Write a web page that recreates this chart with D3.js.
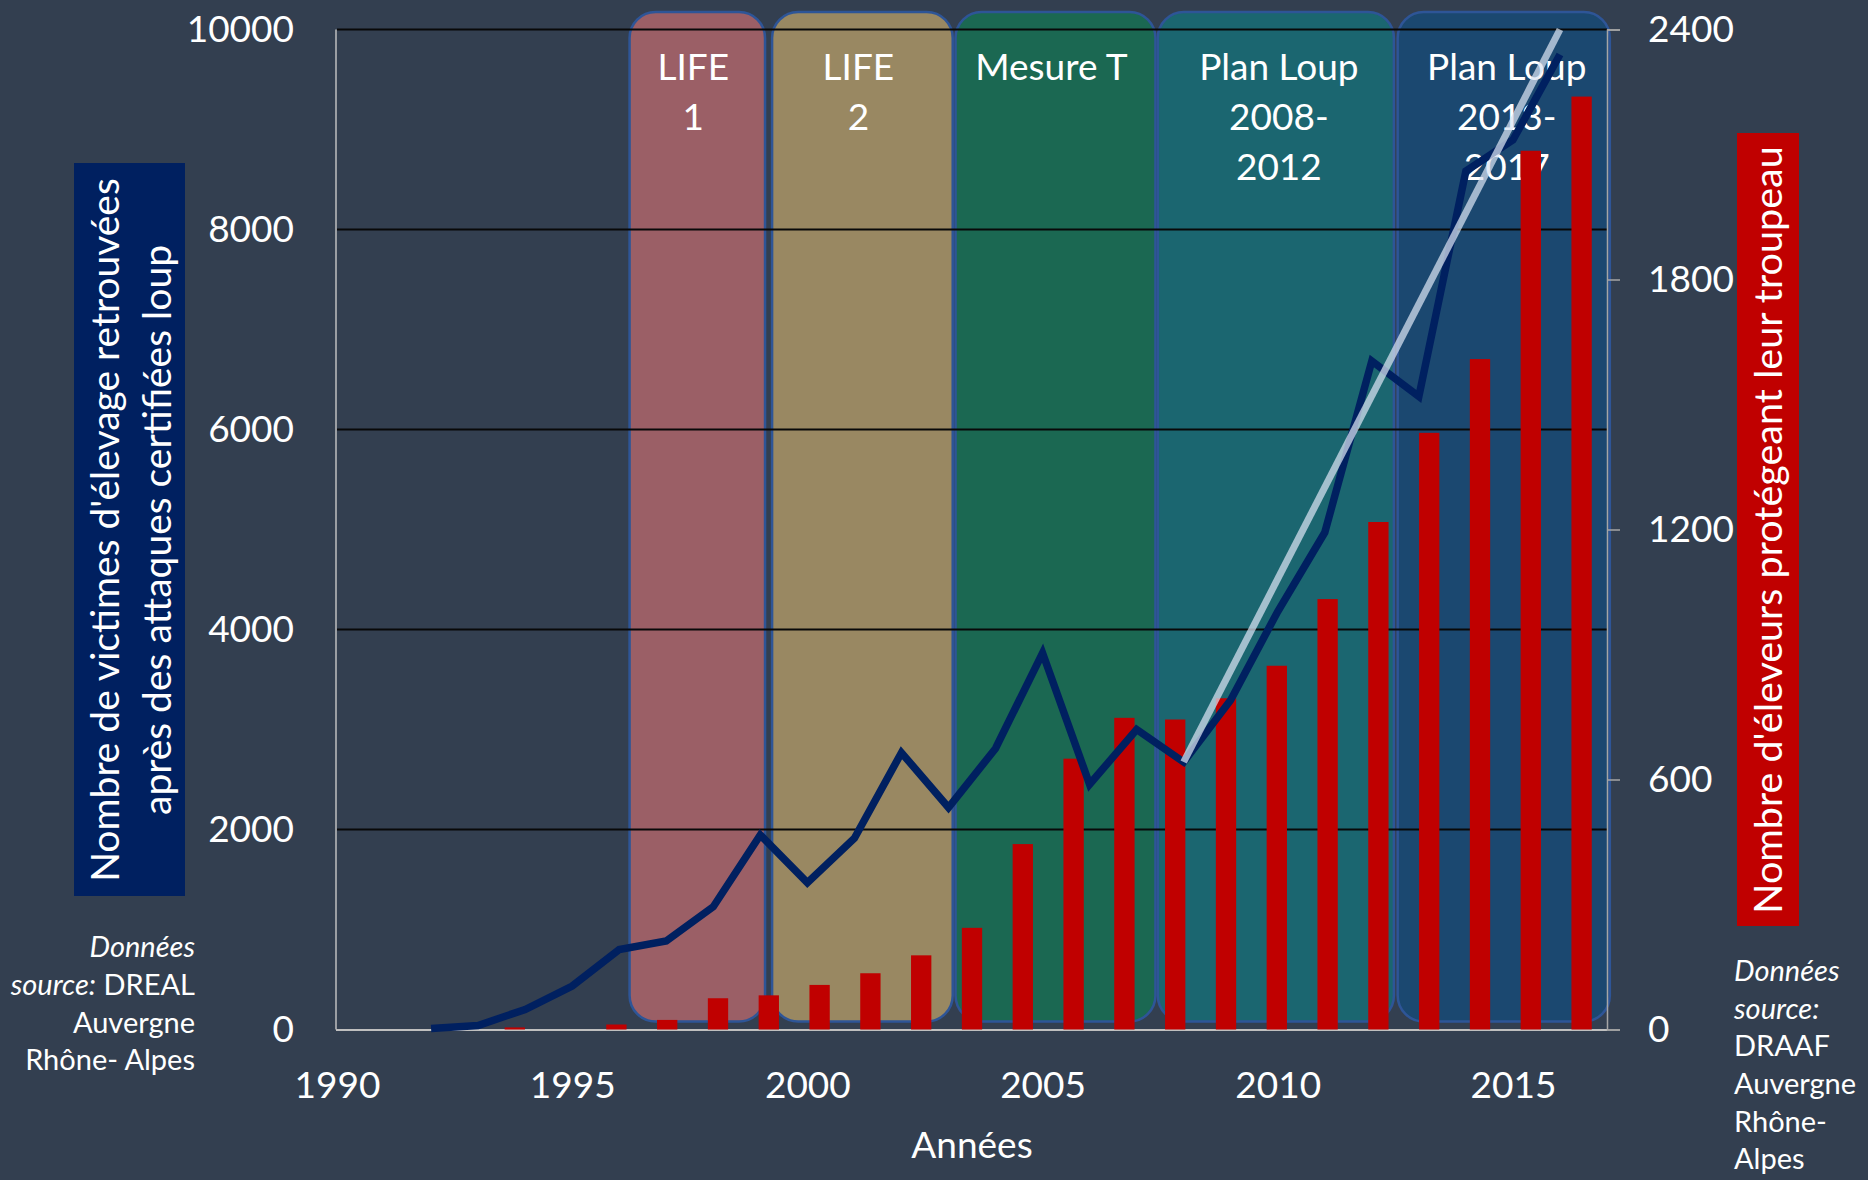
<!DOCTYPE html>
<html>
<head>
<meta charset="utf-8">
<script src="https://cdn.jsdelivr.net/npm/d3@7"></script>
<style>
  html, body { margin: 0; padding: 0; background: #333f50; }
  svg { display: block; }
</style>
</head>
<body>
<div id="chart"></div>
<script>
// Years shared by the line and the bar series.
const years = [1992, 1993, 1994, 1995, 1996, 1997, 1998, 1999, 2000, 2001, 2002, 2003, 2004,
    2005, 2006, 2007, 2008, 2009, 2010, 2011, 2012, 2013, 2014, 2015, 2016];

// Victims of wolf attacks (left axis).
const victims = [10, 40, 200, 435, 800, 885, 1228, 1945, 1468, 1912, 2768, 2220, 2810,
    3765, 2452, 3000, 2675, 3295, 4180, 4970, 6685, 6330, 8585, 8895, 9750];

// Breeders protecting their herd (right axis).
const breeders = [0, 0, 0, 5, 0, 12, 23, 75, 82, 107, 135, 178, 244,
    445, 650, 748, 744, 795, 873, 1033, 1218, 1432, 1609, 2109, 2239];

// Linear trend drawn over the last plan.
const trendYears = [2008, 2016];
const trendValues = [2675, 10000];

// Management periods drawn behind the series.
const periodLabels = [["LIFE", "1"], ["LIFE", "2"], ["Mesure T"], ["Plan Loup", "2008-", "2012"], ["Plan Loup", "2013-", "2017"]];
const periodStart = [1996.22, 1999.25, 2003.15, 2007.45, 2012.55];
const periodEnd = [1999.10, 2003.09, 2007.40, 2012.47, 2017.06];
const periodColors = ["#9b5f66", "#998862", "#1b6852", "#1b6670", "#1b4870"];

const xTicks = [1990, 1995, 2000, 2005, 2010, 2015];
const leftTicks = [0, 2000, 4000, 6000, 8000, 10000];
const rightTicks = [0, 600, 1200, 1800, 2400];

// Chart dimensions.
const width = 1868;
const height = 1180;
const plotLeft = 337;
const plotRight = 1607;
const plotTop = 29.5;
const plotBottom = 1029.5;
const font = "Lato, 'Open Sans', sans-serif";

const x = d3.scaleLinear().domain([1990, 2017]).range([plotLeft, plotRight]);
const yLeft = d3.scaleLinear().domain([0, 10000]).range([plotBottom, plotTop]);
const yRight = d3.scaleLinear().domain([0, 2400]).range([plotBottom, plotTop]);
const xBand = d3.scaleBand().domain(years).range([plotLeft, plotRight])
    .paddingInner(0.6).paddingOuter(0.3);

const svg = d3.select("#chart")
    .append("svg")
    .attr("width", width)
    .attr("height", height)
    .attr("viewBox", [0, 0, width, height])
    .style("font-family", font);

svg.append("rect")
    .attr("width", width)
    .attr("height", height)
    .attr("fill", "#333f50");

// Period blocks with their labels.
const periods = periodLabels.map((lines, i) => ({lines, start: periodStart[i], end: periodEnd[i], color: periodColors[i]}));

const period = svg.append("g")
    .selectAll("g")
    .data(periods)
    .join("g");

period.append("rect")
    .attr("x", d => x(d.start))
    .attr("y", 12)
    .attr("width", d => x(d.end) - x(d.start))
    .attr("height", 1021.5 - 12)
    .attr("rx", 26)
    .attr("fill", d => d.color)
    .attr("stroke", "#2e5597")
    .attr("stroke-width", 2.5);

period.append("text")
    .attr("fill", "#fff")
    .attr("font-size", 37)
    .attr("text-anchor", "middle")
    .selectAll("tspan")
    .data(d => d.lines.map((line, j) => ({line, j, cx: (x(d.start) + x(d.end)) / 2 + (d.lines.length === 3 ? 3 : -4)})))
    .join("tspan")
        .attr("x", d => d.cx)
        .attr("y", d => 67 + d.j * 50)
        .attr("dy", "0.35em")
        .text(d => d.line);

// Horizontal gridlines.
svg.append("g")
    .selectAll("line")
    .data(leftTicks.filter(t => t > 0))
    .join("line")
        .attr("x1", plotLeft)
        .attr("x2", plotRight)
        .attr("y1", d => yLeft(d))
        .attr("y2", d => yLeft(d))
        .attr("stroke", "#080808")
        .attr("stroke-width", 2);

// Axis lines.
svg.append("line")
    .attr("x1", plotLeft - 1).attr("x2", plotLeft - 1)
    .attr("y1", plotTop).attr("y2", plotBottom)
    .attr("stroke", "#bfbfbf").attr("stroke-width", 1.5);

svg.append("line")
    .attr("x1", plotLeft - 1).attr("x2", plotRight)
    .attr("y1", plotBottom + 0.5).attr("y2", plotBottom + 0.5)
    .attr("stroke", "#bfbfbf").attr("stroke-width", 2);

const rightAxis = svg.append("g")
    .attr("transform", `translate(${plotRight},0)`)
    .call(d3.axisRight(yRight).tickValues(rightTicks).tickFormat(d3.format("d")).tickSize(13).tickPadding(28));
rightAxis.select(".domain").attr("stroke", "#a6a6a6").attr("stroke-width", 1.5);
rightAxis.selectAll(".tick line").attr("stroke", "#a6a6a6").attr("stroke-width", 1.5);
rightAxis.selectAll("text")
    .attr("fill", "#fff")
    .attr("font-size", 37)
    .attr("font-family", font);

const leftAxis = svg.append("g")
    .attr("transform", `translate(${plotLeft},0)`)
    .call(d3.axisLeft(yLeft).tickValues(leftTicks).tickFormat(d3.format("d")).tickSize(0).tickPadding(43));
leftAxis.select(".domain").remove();
leftAxis.selectAll("text")
    .attr("fill", "#fff")
    .attr("font-size", 37)
    .attr("font-family", font);

const bottomAxis = svg.append("g")
    .attr("transform", `translate(0,${plotBottom})`)
    .call(d3.axisBottom(x).tickValues(xTicks).tickFormat(d3.format("d")).tickSize(0).tickPadding(42));
bottomAxis.select(".domain").remove();
bottomAxis.selectAll("text")
    .attr("fill", "#fff")
    .attr("font-size", 37)
    .attr("font-family", font);

svg.append("text")
    .attr("x", (plotLeft + plotRight) / 2)
    .attr("y", 1145)
    .attr("dy", "0.35em")
    .attr("text-anchor", "middle")
    .attr("fill", "#fff")
    .attr("font-size", 37)
    .text("Années");

// Bars: breeders protecting their herd.
svg.append("g")
    .selectAll("rect")
    .data(years.map((year, i) => ({year, value: breeders[i]})).filter(d => d.value > 0))
    .join("rect")
        .attr("x", d => xBand(d.year))
        .attr("y", d => yRight(d.value))
        .attr("width", xBand.bandwidth())
        .attr("height", d => yRight(0) - yRight(d.value))
        .attr("fill", "#c00000");

// Line: victims.
svg.append("path")
    .datum(years.map((year, i) => ({year, value: victims[i]})))
    .attr("fill", "none")
    .attr("stroke", "#002060")
    .attr("stroke-width", 7.5)
    .attr("stroke-linejoin", "miter")
    .attr("d", d3.line().x(d => x(d.year)).y(d => yLeft(d.value)));

// Trend line.
svg.append("path")
    .datum(trendYears.map((year, i) => ({year, value: trendValues[i]})))
    .attr("fill", "none")
    .attr("stroke", "#dae3f3")
    .attr("stroke-opacity", 0.72)
    .attr("stroke-width", 7)
    .attr("d", d3.line().x(d => x(d.year)).y(d => yLeft(d.value)));

// Axis titles in coloured boxes.
svg.append("rect")
    .attr("x", 74).attr("y", 163)
    .attr("width", 111).attr("height", 733)
    .attr("fill", "#002060");

svg.append("g")
    .attr("transform", "translate(131,530) rotate(-90)")
    .selectAll("text")
    .data(["Nombre de victimes d'élevage retrouvées", "après des attaques certifiées loup"])
    .join("text")
        .attr("y", (d, i) => i === 0 ? -26 : 26)
        .attr("dy", "0.35em")
        .attr("text-anchor", "middle")
        .attr("fill", "#fff")
        .attr("font-size", 39)
        .text(d => d);

svg.append("rect")
    .attr("x", 1737).attr("y", 133)
    .attr("width", 62).attr("height", 793)
    .attr("fill", "#c00000");

svg.append("text")
    .attr("transform", "translate(1768,530) rotate(-90)")
    .attr("dy", "0.35em")
    .attr("text-anchor", "middle")
    .attr("fill", "#fff")
    .attr("font-size", 39.5)
    .text("Nombre d'éleveurs protégeant leur troupeau");

// Data sources.
const leftSource = svg.append("text")
    .attr("text-anchor", "end")
    .attr("fill", "#fff")
    .attr("font-size", 29);
leftSource.append("tspan").attr("x", 195).attr("y", 947).attr("dy", "0.35em")
    .attr("font-style", "italic").text("Données");
leftSource.append("tspan").attr("x", 195).attr("y", 985).attr("dy", "0.35em")
    .call(t => t.append("tspan").attr("font-style", "italic").text("source:"))
    .call(t => t.append("tspan").text(" DREAL"));
leftSource.append("tspan").attr("x", 195).attr("y", 1023).attr("dy", "0.35em").text("Auvergne");
leftSource.append("tspan").attr("x", 195).attr("y", 1060).attr("dy", "0.35em").text("Rhône- Alpes");

const rightSourceLines = [["Données", true], ["source:", true], ["DRAAF", false], ["Auvergne", false], ["Rhône-", false], ["Alpes", false]];
svg.append("text")
    .attr("fill", "#fff")
    .attr("font-size", 29)
    .selectAll("tspan")
    .data(rightSourceLines)
    .join("tspan")
        .attr("x", 1734)
        .attr("y", (d, i) => 971 + i * 37.6)
        .attr("dy", "0.35em")
        .attr("font-style", d => d[1] ? "italic" : "normal")
        .text(d => d[0]);
</script>
</body>
</html>
